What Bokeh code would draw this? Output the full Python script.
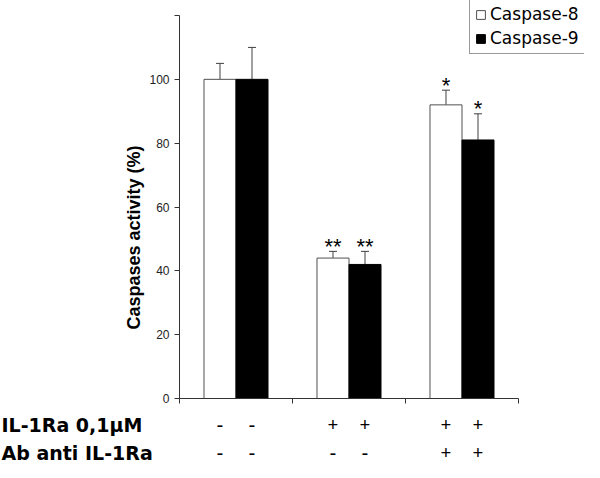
import math
from bokeh.plotting import figure
from bokeh.models import (ColumnDataSource, Range1d, FixedTicker, Whisker, TeeHead,
                          Label, LabelSet, Legend, LegendItem)
from bokeh.core.properties import value
from bokeh.embed import file_html
from bokeh.resources import INLINE

# ---- data ----
groups = ["Control", "IL-1Ra", "IL-1Ra + Ab"]
casp8 = [100, 44, 92]
casp8_err = [5, 2.1, 4.6]
casp9 = [100, 42, 81]
casp9_err = [10, 4.1, 8.2]
stars8 = ["", "**", "*"]
stars9 = ["", "**", "*"]
il1ra_signs = ["-", "-", "+", "+", "+", "+"]
ab_signs = ["-", "-", "-", "-", "+", "+"]
row_labels = ["IL-1Ra 0,1\u00b5M", "Ab anti IL-1Ra"]
y_ticks = [0, 20, 40, 60, 80, 100, 120]
series_names = ["Caspase-8", "Caspase-9"]

W, H = 584, 462
X0, PXX = 179.0, 113.0          # pixel of x=0, pixels per group
Y0, PXY = 398.0, 383.0 / 120.0  # pixel of y=0, pixels per unit

BW = 0.2832
centers = [i + 0.5 for i in range(len(groups))]
x8 = [c - BW / 2 for c in centers]
x9 = [c + BW / 2 for c in centers]

p = figure(width=W, height=H,
           x_range=Range1d(-X0 / PXX, (W - X0) / PXX),
           y_range=Range1d(-(H - Y0) / PXY, Y0 / PXY),
           output_backend="svg", toolbar_location=None,
           min_border=0, min_border_left=0, min_border_right=0,
           min_border_top=0, min_border_bottom=0)
p.outline_line_color = None
p.xgrid.visible = False
p.ygrid.visible = False
p.background_fill_color = "white"
p.border_fill_color = "white"

AX = "#333333"
# y axis
yax = p.yaxis[0]
yax.fixed_location = 0
yax.bounds = (0, 120)
yax.ticker = FixedTicker(ticks=y_ticks)
yax.major_label_overrides = {120: ""}
yax.axis_line_color = AX
yax.major_tick_line_color = AX
yax.major_tick_out = 5
yax.major_tick_in = 0
yax.minor_tick_line_color = None
yax.major_label_standoff = 5
yax.major_label_text_font = "Liberation Sans"
yax.major_label_text_font_size = "12px"
yax.major_label_text_color = "#222222"
# x axis
xax = p.xaxis[0]
xax.fixed_location = 0
xax.bounds = (0, 3)
xax.ticker = FixedTicker(ticks=[0, 1, 2, 3])
xax.major_label_overrides = {0: "", 1: "", 2: "", 3: ""}
xax.axis_line_color = AX
xax.major_tick_line_color = AX
xax.major_tick_out = 5
xax.major_tick_in = 0
xax.minor_tick_line_color = None

src8 = ColumnDataSource(dict(x=x8, top=casp8, upper=[v + e for v, e in zip(casp8, casp8_err)],
                             lower=casp8, stars=stars8))
src9 = ColumnDataSource(dict(x=x9, top=casp9, upper=[v + e for v, e in zip(casp9, casp9_err)],
                             lower=casp9, stars=stars9))

r8 = p.vbar(x="x", top="top", bottom=0, width=BW, source=src8,
            fill_color="white", line_color="#505050", line_width=1)
r9 = p.vbar(x="x", top="top", bottom=0, width=BW, source=src9,
            fill_color="black", line_color="black", line_width=1)

for s in (src8, src9):
    w = Whisker(source=s, base="x", upper="upper", lower="lower", dimension="height",
                line_color="#404040", line_width=1,
                upper_head=TeeHead(size=8, line_color="#404040", line_width=1),
                lower_head=None)
    p.add_layout(w)
    p.text(x="x", y="upper", text="stars", source=s, text_align="center",
           text_baseline="alphabetic", y_offset=-5, text_font=value("Liberation Sans"),
           text_font_size="22px", text_color="black")

# y-axis label
p.add_layout(Label(x=(133 - X0) / PXX, y=(Y0 - 237) / PXY, text="Caspases activity (%)",
                   angle=math.pi / 2, text_align="center", text_baseline="middle",
                   text_font="Liberation Sans", text_font_style="bold",
                   text_font_size="18px", text_color="black"))

# bottom condition rows
row_y = [(Y0 - 424) / PXY, (Y0 - 452) / PXY]
bar_x = []
for a, b in zip(x8, x9):
    bar_x += [a, b]
for ry, lbl, signs in zip(row_y, row_labels, [il1ra_signs, ab_signs]):
    p.add_layout(Label(x=(1 - X0) / PXX, y=ry, text=lbl, text_align="left",
                       text_baseline="middle", text_font="DejaVu Sans",
                       text_font_style="bold", text_font_size="19px", text_color="black"))
    ssrc = ColumnDataSource(dict(x=bar_x, y=[ry] * len(bar_x), t=signs))
    p.add_layout(LabelSet(x="x", y="y", text="t", source=ssrc, text_align="center",
                          text_baseline="middle", text_font="DejaVu Sans",
                          text_font_style="bold", text_font_size="19px", text_color="black"))

legend = Legend(items=[LegendItem(label=series_names[0], renderers=[r8]),
                       LegendItem(label=series_names[1], renderers=[r9])],
                location=(469, H - 54), orientation="vertical",
                border_line_color="#333333", border_line_width=1,
                background_fill_color="white", background_fill_alpha=1,
                label_text_font="DejaVu Sans", label_text_font_size="17px",
                label_text_color="black",
                glyph_width=11, glyph_height=11, label_height=20, label_standoff=4,
                padding=5, spacing=4, margin=0)
p.add_layout(legend, "center")

open("out.html", "w").write(file_html(p, INLINE))
